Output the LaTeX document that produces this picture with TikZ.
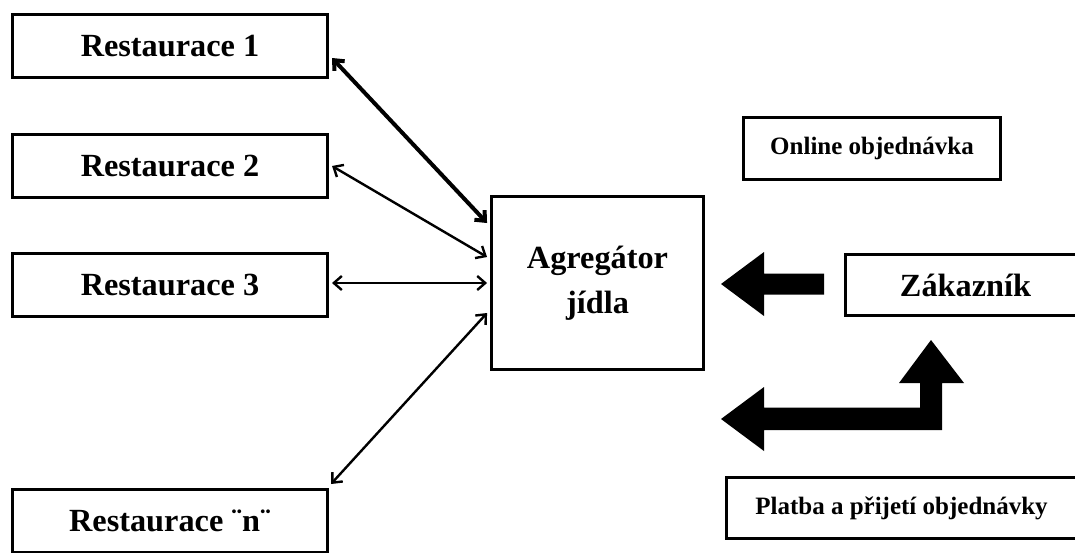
\documentclass[tikz,border=0pt]{standalone}
\usepackage{fontspec}
\setmainfont{Liberation Serif}
\usetikzlibrary{arrows.meta,calc}
\tikzset{
  box/.style={draw, line width=3.4pt, rectangle, inner sep=0pt, font=\bfseries\fontsize{32.3}{45}\selectfont, align=center},
  smallbox/.style={box, font=\bfseries\fontsize{25}{30}\selectfont},
  link/.style={line width=2.4pt, {Straight Barb[length=8pt,width=14pt]}-{Straight Barb[length=8pt,width=14pt]}},
  boldlink/.style={link, line width=4pt},
  blockarrow/.style={fill=black, draw=none}
}
\begin{document}
\begin{tikzpicture}[x=1pt,y=-1pt]
\useasboundingbox (0,0) rectangle (1075,552);
\node[box, minimum width=314.6pt, minimum height=62.6pt] (r1) at (170,46) {Restaurace 1};
\node[box, minimum width=314.6pt, minimum height=62.6pt] (r2) at (170,166) {Restaurace 2};
\node[box, minimum width=314.6pt, minimum height=62.6pt] (r3) at (170,285) {Restaurace 3};
\node[box, minimum width=314.6pt, minimum height=62.6pt] (rn) at (170,521) {Restaurace ¨n¨};
\node[box, minimum width=211.5pt, minimum height=172.5pt] (agg) at (597.5,283) {Agregátor\\jídla};
\node[smallbox, minimum width=256.5pt, minimum height=61.5pt] (online) at (872,148.5) {Online objednávka};
\node[box, minimum width=240pt, minimum height=60.5pt] (zak) at (965.5,285) {Zákazník};
\node[smallbox, minimum width=350pt, minimum height=60.5pt] (platba) at (901.5,508) {Platba a přijetí objednávky};

\draw[boldlink] ($(r1.east)+(3,12)$) -- ($(agg.west)+(-3,-60)$);
\draw[link] ($(r2.east)+(3,0)$) -- ($(agg.west)+(-3,-26)$);
\draw[link] ($(r3.east)+(3,-2)$) -- ($(agg.west)+(-3,0)$);
\draw[link] ($(rn.north east)+(2,-4)$) -- ($(agg.west)+(-3,30)$);

\fill[blockarrow] (721,284) -- (764,252) -- (764,273.5) -- (824,273.5) -- (824,294.5) -- (764,294.5) -- (764,316) -- cycle;
\fill[blockarrow] (721,419) -- (764,387) -- (764,407.5) -- (920,407.5) -- (920,383) -- (899,383) -- (931,340) -- (964,383) -- (942,383) -- (942,430) -- (764,430) -- (764,451) -- cycle;
\end{tikzpicture}
\end{document}
